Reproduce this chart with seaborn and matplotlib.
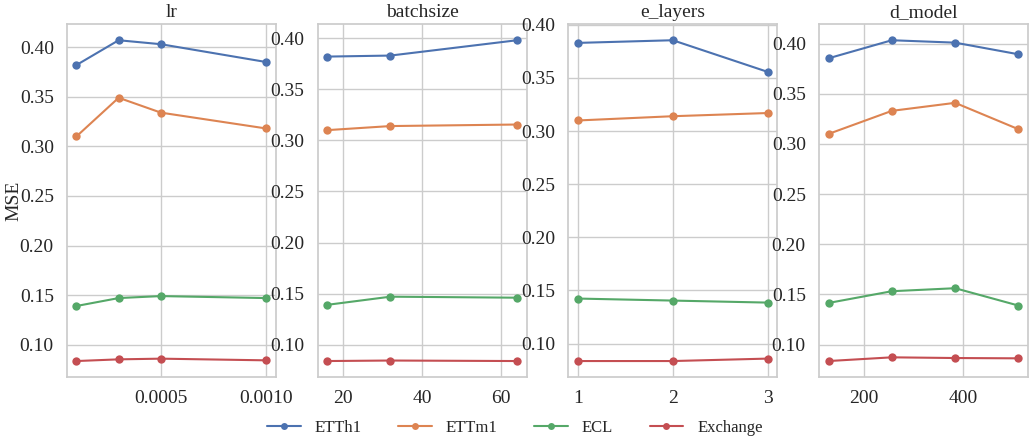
import numpy as np
import pandas as pd
import matplotlib
matplotlib.use("Agg")
import matplotlib.pyplot as plt
import seaborn as sns
from matplotlib.ticker import MultipleLocator

datasets = ["ETTh1", "ETTm1", "ECL", "Exchange"]

lr_x = [0.0001, 0.0003, 0.0005, 0.0010]
lr_ETTh1 = [0.382, 0.407, 0.403, 0.385]
lr_ETTm1 = [0.310, 0.349, 0.334, 0.318]
lr_ECL = [0.139, 0.147, 0.149, 0.147]
lr_Exchange = [0.0835, 0.0852, 0.0859, 0.0842]

bs_x = [16, 32, 64]
bs_ETTh1 = [0.382, 0.383, 0.398]
bs_ETTm1 = [0.310, 0.314, 0.3155]
bs_ECL = [0.139, 0.147, 0.146]
bs_Exchange = [0.084, 0.0845, 0.084]

el_x = [1, 2, 3]
el_ETTh1 = [0.383, 0.3855, 0.3557]
el_ETTm1 = [0.310, 0.314, 0.317]
el_ECL = [0.1424, 0.1405, 0.1386]
el_Exchange = [0.0836, 0.0836, 0.0859]

dm_x = [128, 256, 384, 512]
dm_ETTh1 = [0.3854, 0.4034, 0.401, 0.3894]
dm_ETTm1 = [0.310, 0.333, 0.341, 0.3147]
dm_ECL = [0.1415, 0.1532, 0.1562, 0.1389]
dm_Exchange = [0.0836, 0.0873, 0.0866, 0.0863]

titles = ["lr", "batchsize", "e_layers", "d_model"]
panels = [
    (lr_x, [lr_ETTh1, lr_ETTm1, lr_ECL, lr_Exchange]),
    (bs_x, [bs_ETTh1, bs_ETTm1, bs_ECL, bs_Exchange]),
    (el_x, [el_ETTh1, el_ETTm1, el_ECL, el_Exchange]),
    (dm_x, [dm_ETTh1, dm_ETTm1, dm_ECL, dm_Exchange]),
]
tick_steps = [0.0005, 20, 1, 200]

sns.set_theme(style="whitegrid", palette="deep")
plt.rcParams["font.family"] = ["Liberation Serif", "DejaVu Serif"]
plt.rcParams["font.size"] = 12

fig, axes = plt.subplots(1, 4, figsize=(10.3, 4.4), dpi=100)
fig.subplots_adjust(left=0.065, right=0.998, top=0.945, bottom=0.143, wspace=0.2)

for ax, title, (xs, series), step in zip(axes, titles, panels, tick_steps):
    rows = []
    for name, vals in zip(datasets, series):
        for x, v in zip(xs, vals):
            rows.append({"x": x, "MSE": v, "dataset": name})
    df = pd.DataFrame(rows)
    sns.lineplot(data=df, x="x", y="MSE", hue="dataset", hue_order=datasets,
                 marker="o", markersize=6, markeredgewidth=0, linewidth=1.5, ax=ax)
    ax.set_title(title, fontsize=14, pad=5)
    ax.set_xlabel("")
    ax.set_ylabel("MSE" if ax is axes[0] else "", fontsize=14)
    ax.xaxis.set_major_locator(MultipleLocator(step))
    ax.yaxis.set_major_locator(MultipleLocator(0.05))
    ax.tick_params(labelsize=14)
    if ax.get_legend() is not None:
        handles, labels = ax.get_legend_handles_labels()
        ax.get_legend().remove()

axes[0].yaxis.set_label_coords(-0.215, 0.5)

for h in handles:
    h.set_markersize(5)

fig.legend(handles, labels, loc="lower center", ncol=4, frameon=False,
           bbox_to_anchor=(0.5, -0.025), fontsize=12, columnspacing=2.2,
           handlelength=2.0, handletextpad=0.85)

fig.savefig("out.png", dpi=100)
